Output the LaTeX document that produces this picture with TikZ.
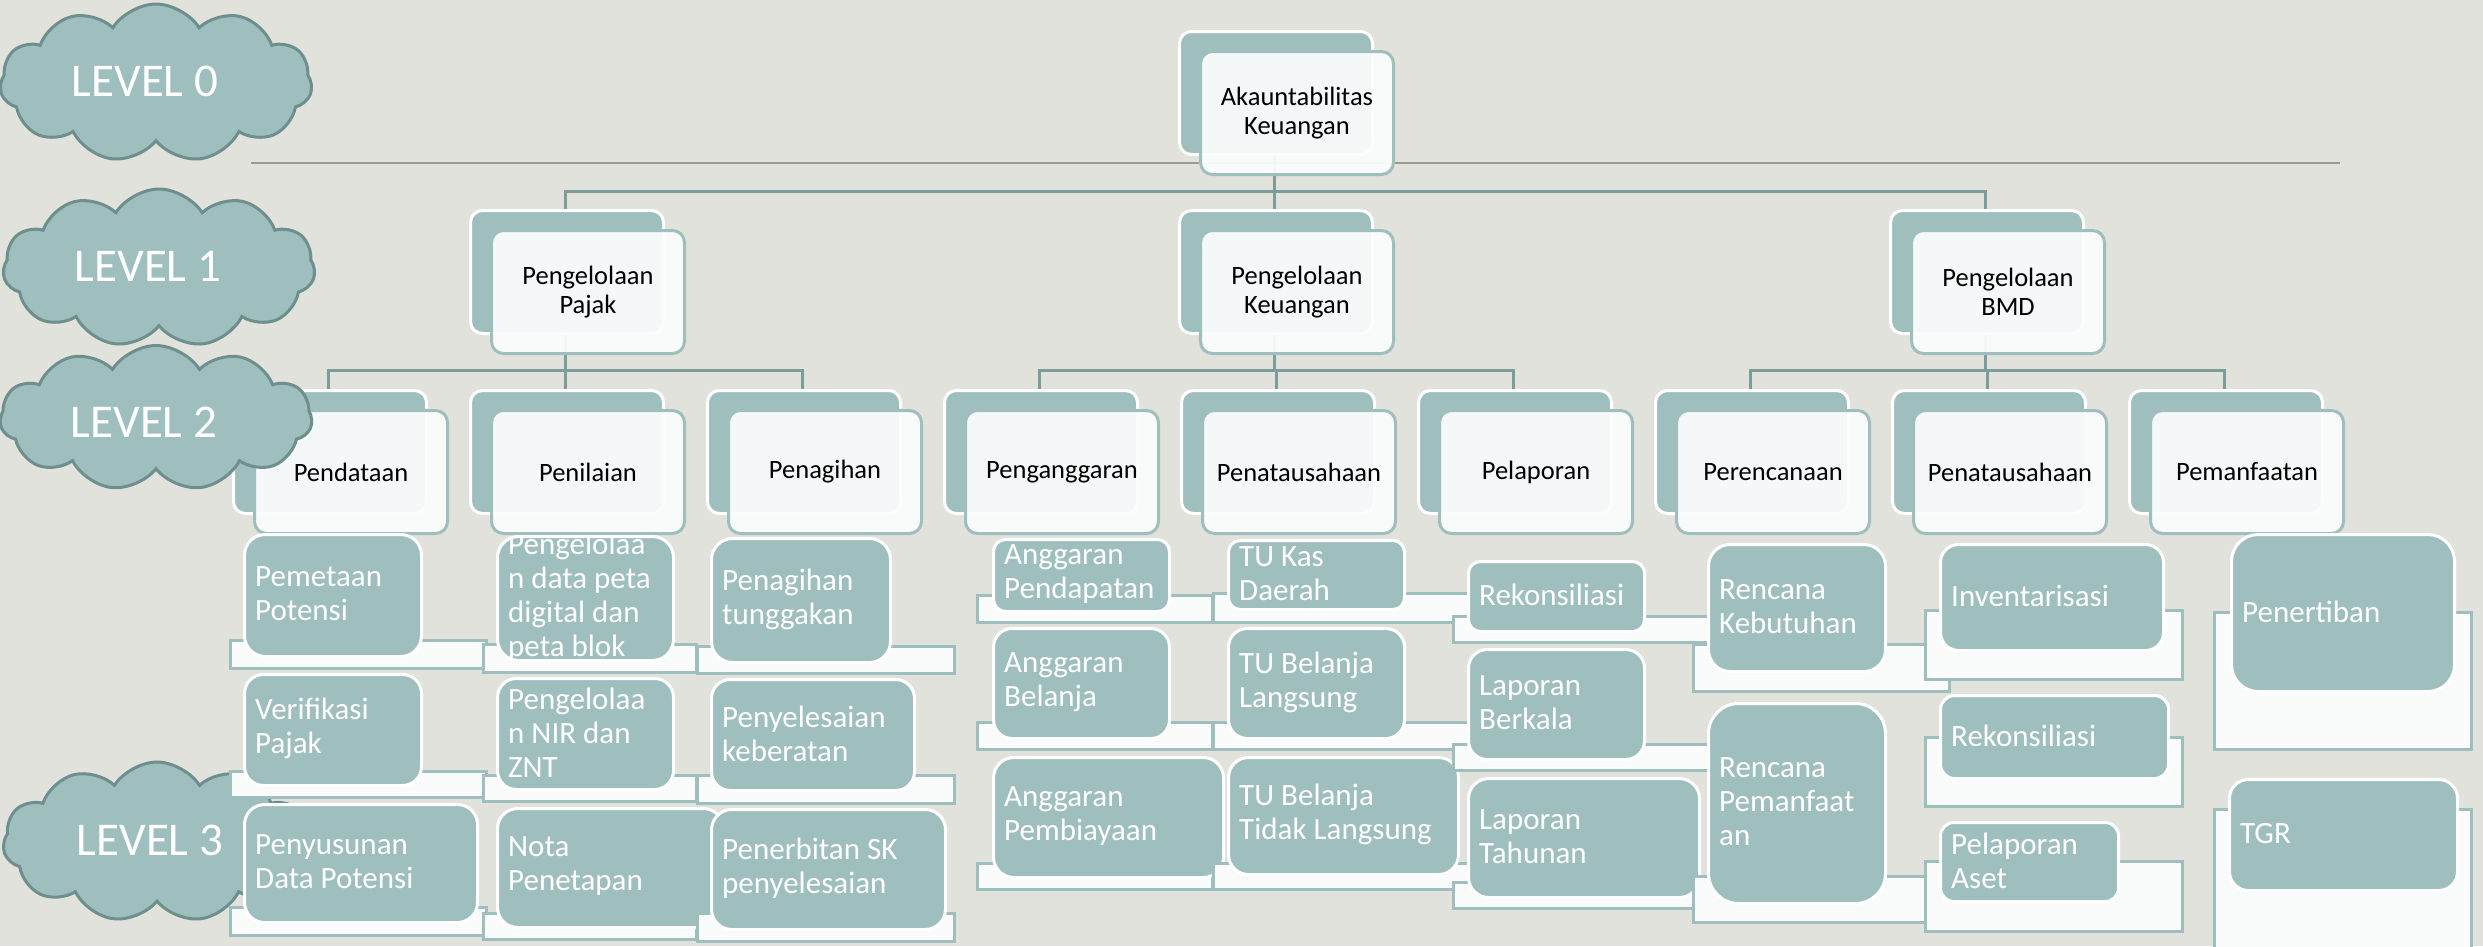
\documentclass[tikz,border=0pt]{standalone}
\usepackage{fontspec}
\setmainfont{Carlito}
\usetikzlibrary{shapes.symbols}
\definecolor{bgc}{HTML}{E1E2DC}
\definecolor{tealc}{HTML}{9EBFBE}
\definecolor{connc}{HTML}{7D9D9B}
\definecolor{greyc}{HTML}{9A9B96}
\definecolor{cloudline}{HTML}{6F8F8E}
\definecolor{frontc}{HTML}{FBFCFC}
\definecolor{ulc}{HTML}{FAFBFB}
\tikzset{
  backbox/.style={rectangle, rounded corners=12pt, fill=tealc, draw=white, line width=3pt,
    minimum width=193pt, minimum height=123pt, inner sep=0pt},
  frontbox/.style={rectangle, rounded corners=12pt, fill=frontc, fill opacity=0.94, text opacity=1,
    draw=tealc, line width=3pt, minimum width=193pt, minimum height=123pt, inner sep=0pt,
    align=center, text=black, font=\fontsize{26.5}{29}\selectfont},
  conn/.style={draw=connc, line width=3pt},
  greyline/.style={draw=greyc, line width=2pt},
  cloudst/.style={cloud, cloud puffs=11, cloud puff arc=115, cloud ignores aspect, fill=tealc,
    draw=cloudline, line width=3pt, inner sep=0pt},
  cloudtext/.style={text=white, font=\fontsize{47}{52}\selectfont, inner sep=0pt},
  ulay/.style={fill=ulc, draw=tealc, line width=3pt},
  tealbox/.style={rectangle, fill=tealc, draw=white, line width=3pt, inner sep=0pt},
  ltext/.style={text=white, font=\fontsize{31}{34}\selectfont, align=left, inner sep=0pt},
  pt0/.style={inner sep=0pt, minimum size=0pt},
}
\newcommand\lvbox[4]{%
  \node[backbox, anchor=north west] (#1) at (#2,#3) {};
  \node[frontbox, anchor=north west] (#1f) at ({#2+21},{#3+20}) {#4};
}
\newcommand\ulay[4]{\draw[ulay] (#1,#2) rectangle (#3,#4);}
\newcommand\tbox[6]{%
  \pgfmathsetmacro\mybw{#4-#2}%
  \pgfmathsetmacro\mybh{#5-#3}%
  \pgfmathsetmacro\mybr{0.17*min(\mybw,\mybh)}%
  \node[tealbox, minimum width=\mybw pt, minimum height=\mybh pt, rounded corners=\mybr pt,
    anchor=north west] (#1) at (#2,#3) {};
  \begin{scope}
    \clip[rounded corners=\mybr pt] (#2,#3) rectangle (#4,#5);
    \node[ltext, anchor=west] (#1t) at ({#2+12},{(#3+#5)/2}) {#6};
  \end{scope}
}
\begin{document}
\begin{tikzpicture}[x=1pt,y=-1pt]
\useasboundingbox (0,0) rectangle (2483,946);
\fill[bgc] (0,0) rectangle (2483,946);

% separator line
\coordinate (gl1) at (251,163);
\coordinate (gl2) at (2340,163);
\draw[greyline] (gl1) -- (gl2);

% bus levels
\coordinate (busA) at (0,191);
\coordinate (busB) at (0,370);

% connector end points (back-box centres)
\node[pt0] (L0s) at (1274.5,154) {};
\foreach \nm/\xx in {L1a/565.5, L1b/1274.5, L1c/1985.5}{
  \node[pt0] (\nm n) at (\xx,209) {};
  \node[pt0] (\nm s) at (\xx,332) {};
}
\foreach \nm/\xx in {L2a/328.5, L2b/565.5, L2c/802.5, L2d/1039.5, L2e/1276.5, L2f/1513.5, L2g/1750.5, L2h/1987.5, L2i/2224.5}{
  \node[pt0] (\nm n) at (\xx,389) {};
}
\foreach \ch in {L1a, L1b, L1c}{
  \draw[conn] (L0s) -- (L0s |- busA) -| (\ch n);
}
\foreach \ch in {L2a, L2b, L2c}{ \draw[conn] (L1as) -- (L1as |- busB) -| (\ch n); }
\foreach \ch in {L2d, L2e, L2f}{ \draw[conn] (L1bs) -- (L1bs |- busB) -| (\ch n); }
\foreach \ch in {L2g, L2h, L2i}{ \draw[conn] (L1cs) -- (L1cs |- busB) -| (\ch n); }

% Level 0
\lvbox{L0}{1178}{30}{Akauntabilitas\\Keuangan}
% Level 1
\lvbox{L1A}{469}{209}{Pengelolaan\\Pajak}
\lvbox{L1B}{1178}{209}{Pengelolaan\\Keuangan}
\lvbox{L1C}{1889}{209}{Pengelolaan\\BMD}
% Level 2
\lvbox{L2A}{232}{389}{Pendataan}
\lvbox{L2B}{469}{389}{Penilaian}
\lvbox{L2C}{706}{389}{Penagihan}
\lvbox{L2D}{943}{389}{Penganggaran}
\lvbox{L2E}{1180}{389}{Penatausahaan}
\lvbox{L2F}{1417}{389}{Pelaporan}
\lvbox{L2G}{1654}{389}{Perencanaan}
\lvbox{L2H}{1891}{389}{Penatausahaan}
\lvbox{L2I}{2128}{389}{Pemanfaatan}

% clouds
\node[cloudst, minimum width=312pt, minimum height=158pt] (c0) at (156,83) {};
\node[cloudtext] (c0t) at (145,81) {LEVEL 0};
\node[cloudst, minimum width=312pt, minimum height=158pt] (c1) at (159,268) {};
\node[cloudtext] (c1t) at (148,266) {LEVEL 1};
\node[cloudst, minimum width=312pt, minimum height=145pt] (c2) at (156,418) {};
\node[cloudtext] (c2t) at (144,422) {LEVEL 2};
\node[cloudst, minimum width=308pt, minimum height=160pt] (c3) at (157,842) {};
\node[cloudtext] (c3t) at (150,840) {LEVEL 3};

% Level 3 - Pajak
\ulay{230}{640}{486}{668}
\tbox{p1}{243}{533}{420}{655}{Pemetaan\\Potensi}
\ulay{230}{771}{486}{797}
\tbox{p2}{243}{673}{420}{784}{Verifikasi\\Pajak}
\ulay{230}{907}{486}{935}
\tbox{p3}{243}{803}{476}{921}{Penyusunan\\Data Potensi}
\ulay{483}{644}{696}{672}
\tbox{p4}{496}{535}{672}{659}{Pengelolaa\\n data peta\\digital dan\\peta blok}
\ulay{483}{775}{696}{801}
\tbox{p5}{496}{677}{672}{788}{Pengelolaa\\n NIR dan\\ZNT}
\ulay{483}{913}{696}{939}
\tbox{p6}{496}{807}{722}{926}{Nota\\Penetapan}
\ulay{697}{646}{954}{673}
\tbox{p7}{710}{537}{889}{661}{Penagihan\\tunggakan}
\ulay{697}{775}{954}{803}
\tbox{p8}{710}{678}{913}{789}{Penyelesaian\\keberatan}
\ulay{697}{913}{954}{941}
\tbox{p9}{710}{808}{944}{928}{Penerbitan SK\\penyelesaian}

% Level 3 - Keuangan
\ulay{977}{595}{1212}{622}
\tbox{k1}{992}{538}{1168}{610}{Anggaran\\Pendapatan}
\ulay{977}{722}{1212}{749}
\tbox{k2}{992}{627}{1168}{737}{Anggaran\\Belanja}
\ulay{977}{863}{1212}{889}
\tbox{k3}{992}{756}{1222}{876}{Anggaran\\Pembiayaan}
\ulay{1213}{593}{1470}{622}
\tbox{k4}{1227}{539}{1403}{608}{TU Kas\\Daerah}
\ulay{1213}{722}{1470}{749}
\tbox{k5}{1227}{627}{1403}{737}{TU Belanja\\Langsung}
\ulay{1213}{863}{1470}{889}
\tbox{k6}{1227}{756}{1457}{873}{TU Belanja\\Tidak Langsung}
\ulay{1453}{616}{1760}{642}
\tbox{k7}{1467}{560}{1643}{630}{Rekonsiliasi}
\ulay{1453}{744}{1760}{770}
\tbox{k8}{1467}{648}{1643}{758}{Laporan\\Berkala}
\ulay{1453}{882}{1700}{908}
\tbox{k9}{1467}{777}{1698}{896}{Laporan\\Tahunan}

% Level 3 - BMD
\ulay{1693}{644}{1949}{691}
\tbox{b1}{1707}{543}{1884}{670}{Rencana\\Kebutuhan}
\ulay{1693}{876}{1949}{922}
\tbox{b2}{1707}{702}{1884}{902}{Rencana\\Pemanfaat\\an}
\ulay{1925}{610}{2182}{679}
\tbox{b3}{1939}{543}{2162}{649}{Inventarisasi}
\ulay{1925}{737}{2182}{806}
\tbox{b4}{1939}{694}{2167}{777}{Rekonsiliasi}
\ulay{1925}{861}{2182}{931}
\tbox{b5}{1939}{821}{2117}{900}{Pelaporan\\Aset}
\ulay{2214}{612}{2471}{749}
\tbox{b6}{2230}{533}{2453}{690}{Penertiban}
\ulay{2214}{809}{2471}{952}
\tbox{b7}{2228}{778}{2456}{889}{TGR}
\end{tikzpicture}
\end{document}
